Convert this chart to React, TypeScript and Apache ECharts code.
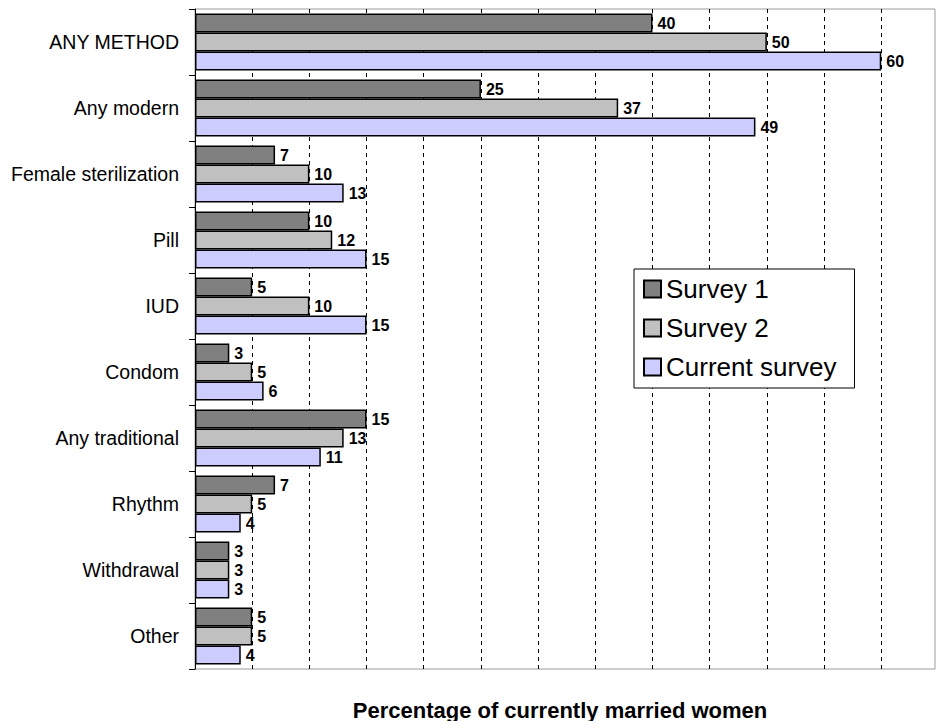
import React, { useEffect, useRef } from "react";
import * as echarts from "echarts";

const categories = [
  "ANY METHOD",
  "Any modern",
  "Female sterilization",
  "Pill",
  "IUD",
  "Condom",
  "Any traditional",
  "Rhythm",
  "Withdrawal",
  "Other",
];

const survey1 = [40, 25, 7, 10, 5, 3, 15, 7, 3, 5];
const survey2 = [50, 37, 10, 12, 10, 5, 13, 5, 3, 5];
const currentSurvey = [60, 49, 13, 15, 15, 6, 11, 4, 3, 4];

const seriesNames = ["Survey 1", "Survey 2", "Current survey"];
const seriesColors = ["#808080", "#c0c0c0", "#ccccff"];

const FONT = "'Liberation Sans', Arial, sans-serif";

export default function App() {
  const ref = useRef<HTMLDivElement>(null);

  useEffect(() => {
    if (!ref.current) return;
    const chart = echarts.init(ref.current, undefined, { renderer: "svg" });

    const values = [survey1, survey2, currentSurvey];

    chart.setOption({
      animation: false,
      backgroundColor: "#ffffff",
      grid: {
        left: 195,
        top: 9,
        width: 740,
        height: 660,
        show: true,
        borderColor: "#9a9a9a",
        borderWidth: 1,
        containLabel: false,
      },
      legend: {
        orient: "vertical",
        left: 634,
        top: 269,
        icon: "rect",
        itemWidth: 17,
        itemHeight: 17,
        itemGap: 13,
        itemTextGap: 9,
        padding: [7, 18, 8, 9],
        borderColor: "#000000",
        borderWidth: 1,
        backgroundColor: "#ffffff",
        textStyle: {
          fontFamily: FONT,
          fontSize: 26,
          color: "#000000",
          lineHeight: 25,
        },
        data: seriesNames,
      },
      xAxis: {
        type: "value",
        min: 0,
        max: 64.7,
        interval: 5,
        axisLine: { show: false },
        axisTick: { show: false },
        axisLabel: { show: false },
        splitLine: {
          show: true,
          showMinLine: false,
          showMaxLine: false,
          lineStyle: { color: "#000000", width: 1, type: [4, 4] },
        },
      },
      yAxis: {
        type: "category",
        inverse: true,
        data: categories,
        axisLine: { show: true, lineStyle: { color: "#000000", width: 1 } },
        axisTick: { show: true, length: 6, lineStyle: { color: "#000000" } },
        axisLabel: {
          fontFamily: FONT,
          fontSize: 19.5,
          color: "#000000",
          margin: 16,
        },
      },
      series: seriesNames.map((name, i) => ({
        name,
        type: "bar",
        data: values[i],
        barWidth: 19,
        barGap: "0%",
        itemStyle: {
          color: seriesColors[i],
          borderColor: "#000000",
          borderWidth: 1.5,
        },
        label: {
          show: true,
          position: "right",
          distance: 5,
          fontFamily: FONT,
          fontSize: 16,
          fontWeight: "bold",
          color: "#000000",
        },
      })),
      graphic: [
        {
          type: "text",
          x: 560,
          y: 710,
          style: {
            text: "Percentage of currently married women",
            fontFamily: FONT,
            fontSize: 22,
            fontWeight: "bold",
            fill: "#000000",
            textAlign: "center",
            textVerticalAlign: "middle",
          },
        },
      ],
    });

    return () => chart.dispose();
  }, []);

  return (
    <div
      ref={ref}
      style={{ position: "fixed", left: 0, top: 0, width: 941, height: 721 }}
    />
  );
}
